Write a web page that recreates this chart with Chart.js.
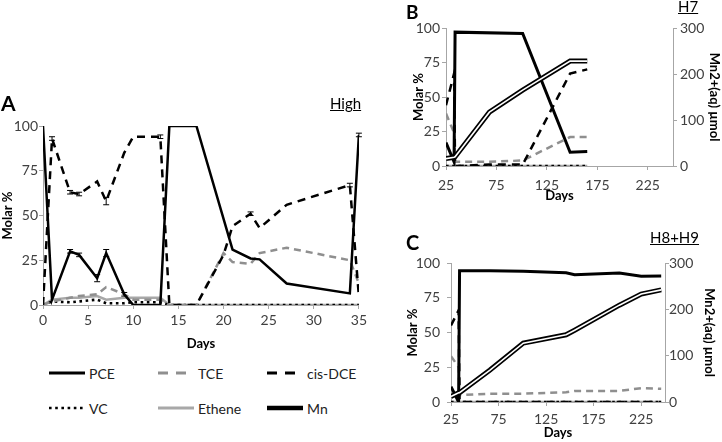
<!DOCTYPE html>
<html>
<head>
<meta charset="utf-8">
<script src="https://cdn.jsdelivr.net/npm/chart.js@4.4.0/dist/chart.umd.min.js"></script>
<style>
  body { margin: 0; background: #fff; font-family: Lato, sans-serif; }
  #wrap { position: relative; width: 722px; height: 442px; overflow: hidden; background: #fff; }
  canvas { position: absolute; }
  .panel { position: absolute; font-weight: bold; color: #000; line-height: 1; }
  .tag { position: absolute; text-decoration: underline; color: #000; line-height: 1; font-size: 15px; }
  .leg { position: absolute; display: flex; align-items: center; font-size: 14px; color: #222; height: 16px; }
  .leg svg { margin-right: 3px; }
</style>
</head>
<body>
<div id="wrap">
  <canvas id="cA" width="370" height="280" style="left:0;top:80px"></canvas>
  <canvas id="cB" width="342" height="210" style="left:380px;top:0"></canvas>
  <canvas id="cC" width="342" height="222" style="left:380px;top:220px"></canvas>
  <div class="panel" style="left:1px;top:92px;font-size:21px">A</div>
  <div class="tag" style="left:330px;top:96px">High</div>
  <div class="panel" style="left:406px;top:2px;font-size:19px">B</div>
  <div class="tag" style="left:678px;top:-1px">H7</div>
  <div class="panel" style="left:406px;top:232px;font-size:20px">C</div>
  <div class="tag" style="left:650px;top:230px">H8+H9</div>
  <div id="legend"></div>
</div>
<script>
// panel A (High)
const daysA = [0, 1, 3, 4, 6, 7, 9, 10, 13, 14, 17, 20, 21, 23, 24, 27, 34, 35];
const pceA = [100, 3, 30, 28, 15, 29, 6, 0, 0, 100, 100, null, 31, 26, 25.5, 12, 6.5, 95];
const tceA = [0, 2, 4, 5, 6, 10, 6, 3, 3, 0, 0, 29, 24, 23, 29, 32, 25, 12];
const dceA = [0, 93, 63, 62, 69, 58, 85, 94, 94, 0, 0, 28, 44, 51, 43, 56, 67, 5];
const vcA = [0, 2, 1.5, 2, 3, 1, 1, 1.5, 1.5, 0, 0, 0, 0, 0, 0, 0, 0, 0];
const etheneA = [0, 3, 4, 4, 5, 3, 4, 4, 4, 0, 0, 0, 0, 0, 0, 0, 0, 0];
const pceErrA = [null, null, 1, 1, 2, 2, 1, null, null, null, null, null, null, null, null, null, null, 1];
const dceErrA = [null, 1, 1, 1, null, 2, null, null, 1, null, null, null, null, 1, null, null, 1, null];

// panel B (H7)
const daysB = [25, 33, 34, 68, 101, 148, 165];
const pceB = [17, 3, 97, null, 96, 10, 10.5];
const tceB = [38, 24, 3, 3, 4, 21, 21];
const dceB = [44, 67, 0, 1, 1, 67, 70];
const vcB = [0, 0, 0, 0, 0, 0, 0];
const etheneB = [0, 0, 0, 0, 0, 0, 0];
const mnB = [16, 19, 20, 117, 165, 228, 228];

// panel C (H8+H9)
const daysC = [25, 33, 34, 66, 101, 146, 155, 202, 225, 246];
const pceC = [11, 0, 94.5, 94.5, 94, 93, 91.6, 92.8, 90.5, 90.7];
const tceC = [33, 25, 5, 6, 6, 7, 8, 8, 10, 9.5];
const dceC = [55, 66, 0, 0, 0, 0, 0, 0, 0, 0];
const vcC = [0, 0, 0, 0, 0, 0, 0, 0, 0, 0];
const etheneC = [0, 0, 0, 0, 0, 0, 0, 0, 0, 0];
const mnC = [12, 20, 20, 69, 127, 145, 155, 209, 233, 242];

const xTicksA = [0, 5, 10, 15, 20, 25, 30, 35];
const xTicksBC = [25, 75, 125, 175, 225];
const molarTicks = [0, 25, 50, 75, 100];
const mnTicks = [0, 100, 200, 300];
const seriesNames = ['PCE', 'TCE', 'cis-DCE', 'VC', 'Ethene', 'Mn'];

Chart.defaults.font.family = 'Lato';
Chart.defaults.animation = false;

const styles = {
  'PCE': { borderColor: '#000', borderWidth: 2.5 },
  'TCE': { borderColor: '#8f8f8f', borderWidth: 2.5, borderDash: [7, 5] },
  'cis-DCE': { borderColor: '#000', borderWidth: 2.5, borderDash: [8, 6] },
  'VC': { borderColor: '#000', borderWidth: 2.6, borderDash: [2.6, 3.6] },
  'Ethene': { borderColor: '#a8a8a8', borderWidth: 2.5 },
  'Mn': { borderColor: '#000', borderWidth: 5 }
};

const pts = (xs, ys) => xs.map((x, i) => ({ x: x, y: ys[i] }));

function line(label, xs, ys, extra) {
  return Object.assign({
    label: label, data: pts(xs, ys), pointRadius: 0, tension: 0, spanGaps: true,
    fill: false, borderJoinStyle: 'miter', yAxisID: 'y'
  }, styles[label], extra || {});
}

// small error bars drawn on top of the lines
const errorBars = {
  id: 'errorBars',
  afterDatasetsDraw(chart) {
    const ctx = chart.ctx;
    chart.data.datasets.forEach((ds, di) => {
      if (!ds.errors) return;
      const meta = chart.getDatasetMeta(di);
      const ys = chart.scales[meta.yAxisID];
      ctx.save();
      ctx.strokeStyle = ds.borderColor;
      ctx.lineWidth = 1;
      ctx.setLineDash([]);
      ds.errors.forEach((e, i) => {
        if (e == null) return;
        const x = meta.data[i].x, v = ds.data[i].y;
        const y1 = ys.getPixelForValue(v + e), y2 = ys.getPixelForValue(v - e);
        ctx.beginPath();
        ctx.moveTo(x, y1); ctx.lineTo(x, y2);
        ctx.moveTo(x - 3, y1); ctx.lineTo(x + 3, y1);
        ctx.moveTo(x - 3, y2); ctx.lineTo(x + 3, y2);
        ctx.stroke();
      });
      ctx.restore();
    });
  }
};

function xAxis(min, max, ticks, h, tickPad, titlePad) {
  return {
    type: 'linear', min: min, max: max,
    afterBuildTicks: s => { s.ticks = ticks.map(v => ({ value: v })); },
    afterFit: s => { s.height = h; },
    grid: { drawOnChartArea: false, tickLength: 4, color: '#a6a6a6' },
    border: { color: '#a6a6a6' },
    ticks: { color: '#404040', font: { size: 14 }, padding: tickPad, maxRotation: 0, autoSkip: false },
    title: { display: true, text: 'Days', color: '#000', font: { size: 13, weight: 'bold' }, padding: { top: 0, bottom: titlePad } }
  };
}

function yAxis(pos, max, ticks, text, w, tickPad, titlePad) {
  return {
    type: 'linear', position: pos, min: 0, max: max,
    afterBuildTicks: s => { s.ticks = ticks.map(v => ({ value: v })); },
    afterFit: s => { s.width = w; },
    grid: { drawOnChartArea: false, tickLength: 4, color: '#a6a6a6' },
    border: { color: '#a6a6a6' },
    ticks: { color: '#404040', font: { size: 14 }, padding: tickPad },
    title: { display: true, text: text, color: '#000', font: { size: 13, weight: 'bold' }, padding: { top: titlePad, bottom: 0 } }
  };
}

function baseOptions(padding) {
  return {
    responsive: false, devicePixelRatio: 1,
    layout: { padding: padding },
    plugins: { legend: { display: false }, tooltip: { enabled: false } }
  };
}

// Panel A
const optA = baseOptions({ left: 0, top: 46, right: 11, bottom: 5 });
optA.scales = {
  x: xAxis(0, 35, xTicksA, 50, 3, 3),
  y: yAxis('left', 100, molarTicks, 'Molar %', 43, 1, 0)
};
new Chart(document.getElementById('cA'), {
  type: 'line',
  data: { datasets: [
    line('PCE', daysA, pceA, { errors: pceErrA }),
    line('cis-DCE', daysA, dceA, { errors: dceErrA }),
    line('TCE', daysA, tceA),
    line('VC', daysA, vcA),
    line('Ethene', daysA, etheneA)
  ] },
  options: optA,
  plugins: [errorBars]
});

// Panels B and C share the same series layout
function mnPanel(id, days, pce, tce, dce, vc, eth, mn, pad, dims) {
  const opt = baseOptions(pad);
  opt.scales = {
    x: xAxis(25, 250, xTicksBC, dims.xh, dims.xTickPad, dims.xTitlePad),
    y: yAxis('left', 100, molarTicks, 'Molar %', dims.yw, dims.yTickPad, dims.yTitlePad),
    y2: yAxis('right', 300, mnTicks, 'Mn2+(aq) µmol', dims.y2w, dims.y2TickPad, dims.y2TitlePad)
  };
  new Chart(document.getElementById(id), {
    type: 'line',
    data: { datasets: [
      line('Mn', days, mn, { label: 'Mn core', borderColor: '#fff', borderWidth: 1.6, yAxisID: 'y2', order: 0 }),
      line('Mn', days, mn, { yAxisID: 'y2', order: 1 }),
      line('PCE', days, pce, { borderWidth: 3, order: 2 }),
      line('cis-DCE', days, dce, { order: 3 }),
      line('TCE', days, tce, { order: 4 }),
      line('VC', days, vc, { order: 5 }),
      line('Ethene', days, eth, { order: 6 })
    ] },
    options: opt
  });
}

mnPanel('cB', daysB, pceB, tceB, dceB, vcB, etheneB, mnB,
  { left: 27, top: 28, right: 0, bottom: 0 },
  { xh: 44, xTickPad: 7, xTitlePad: 6, yw: 39, yTickPad: 2, yTitlePad: 4, y2w: 49, y2TickPad: 3, y2TitlePad: 0 });

mnPanel('cC', daysC, pceC, tceC, dceC, vcC, etheneC, mnC,
  { left: 20, top: 43, right: 0, bottom: 0 },
  { xh: 40, xTickPad: 5, xTitlePad: 1, yw: 51, yTickPad: 7, yTitlePad: 5, y2w: 57, y2TickPad: 0, y2TitlePad: 5 });

// legend under panel A, 3 columns x 2 rows
const legCols = [49, 158, 267];
const legRows = [365, 400];
const legend = document.getElementById('legend');
seriesNames.forEach((name, i) => {
  const st = styles[name];
  const w = name === 'Mn' ? 4.5 : (name === 'VC' ? 2.6 : 3);
  const dash = st.borderDash ? (name === 'VC' ? '2.6,3.6' : '10,8') : 'none';
  const div = document.createElement('div');
  div.className = 'leg';
  div.style.left = legCols[i % 3] + 'px';
  div.style.top = legRows[Math.floor(i / 3)] + 'px';
  div.innerHTML = '<svg width="37" height="8"><line x1="0" y1="4" x2="36" y2="4" stroke="' + st.borderColor +
    '" stroke-width="' + w + '" stroke-dasharray="' + dash + '"/></svg><span>' + name + '</span>';
  legend.appendChild(div);
});
</script>
</body>
</html>
